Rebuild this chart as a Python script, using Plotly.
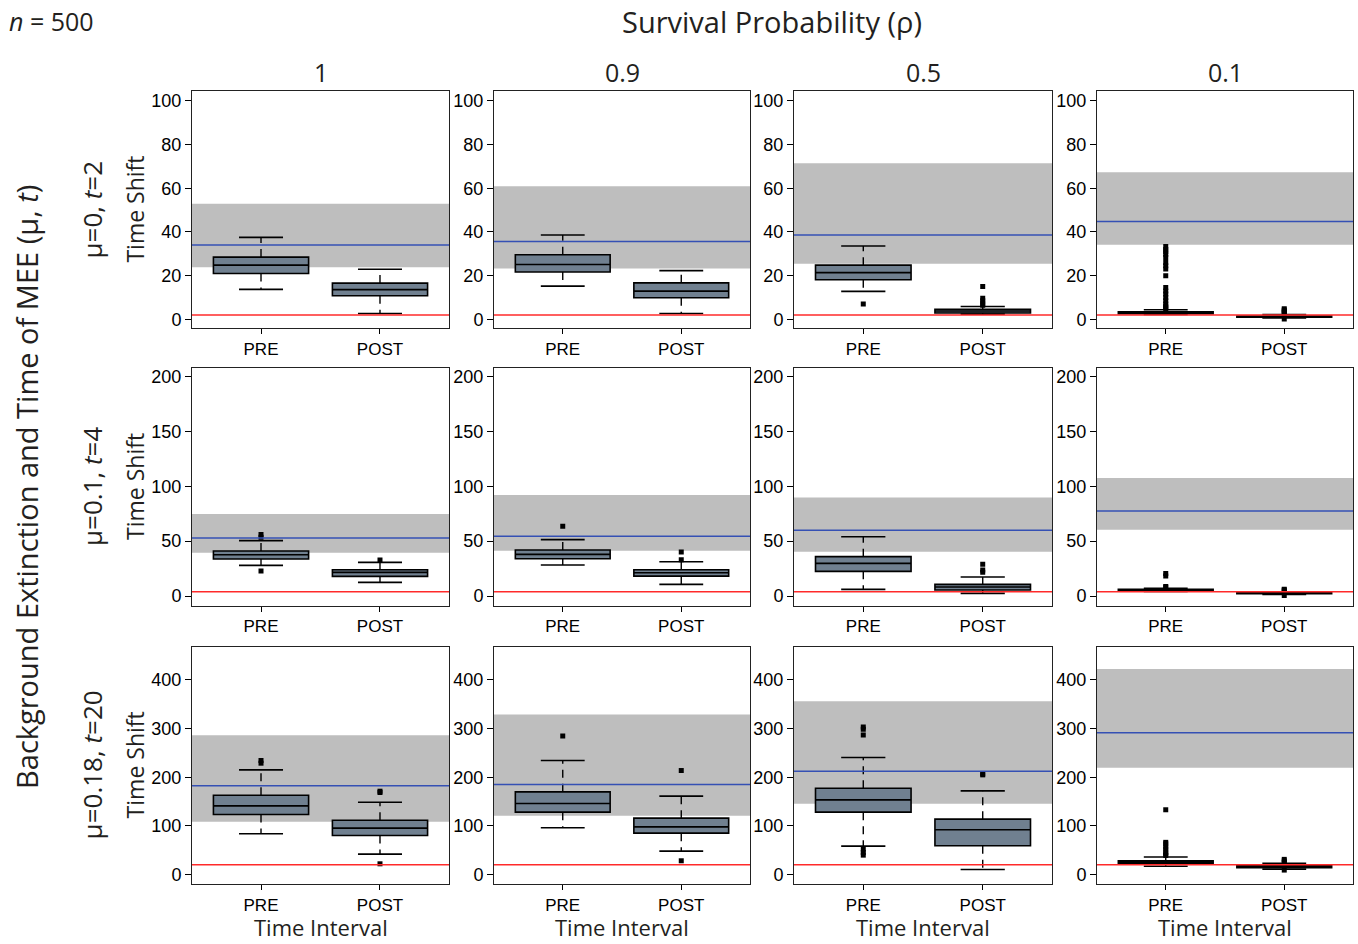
import plotly.graph_objects as go

# ---------------- data ----------------
col_titles = ["1", "0.9", "0.5", "0.1"]
row_titles = ["μ=0, <i>t</i>=2", "μ=0.1, <i>t</i>=4", "μ=0.18, <i>t</i>=20"]
group_labels = ["PRE", "POST"]

row_yranges = [[-4.1, 104.6], [-8.8, 207.6], [-19.9, 468.5]]
row_ticks = [[0, 20, 40, 60, 80, 100], [0, 50, 100, 150, 200], [0, 100, 200, 300, 400]]

# per panel (row-major: row1 c1..c4, row2 c1..c4, row3 c1..c4)
band_low = [23.8, 23.3, 25.5, 34.2,
            39.5, 41.3, 40.4, 60.5,
            108.2, 120.5, 145.2, 219.5]
band_high = [52.9, 60.9, 71.4, 67.3,
             74.8, 92.1, 89.7, 107.6,
             286.3, 328.8, 356.2, 422.6]
blue_line = [34.0, 35.6, 38.6, 44.8,
             52.9, 54.4, 59.9, 77.5,
             182.2, 184.9, 212.3, 291.3]
red_line = [2, 2, 2, 2,
            4, 4, 4, 4,
            20, 20, 20, 20]

# box stats: [lower whisker, q1, median, q3, upper whisker]
pre_stats = [[13.7, 21.0, 24.8, 28.5, 37.5],
             [15.2, 21.7, 25.1, 29.6, 38.6],
             [12.8, 18.1, 21.4, 24.8, 33.6],
             [2.2, 2.6, 3.0, 3.4, 4.4],
             [28.0, 33.7, 37.7, 41.0, 50.5],
             [28.3, 34.0, 38.0, 41.9, 51.4],
             [6.1, 22.5, 29.8, 35.9, 54.1],
             [4.2, 4.9, 5.5, 6.1, 7.0],
             [83.6, 123.3, 141.1, 163.0, 215.1],
             [95.9, 128.1, 145.9, 169.9, 234.2],
             [58.2, 128.1, 153.4, 177.4, 240.4],
             [17.0, 22.0, 25.0, 28.0, 36.0]]
post_stats = [[2.7, 10.8, 13.6, 16.6, 22.9],
              [2.7, 9.9, 12.9, 16.7, 22.3],
              [2.4, 2.9, 3.8, 4.6, 5.9],
              [0.6, 1.0, 1.3, 1.5, 2.2],
              [12.5, 17.9, 21.6, 24.0, 30.7],
              [10.6, 18.2, 21.3, 24.0, 31.3],
              [2.4, 5.5, 8.2, 10.6, 17.3],
              [1.5, 2.1, 2.5, 3.0, 3.9],
              [41.8, 80.1, 95.2, 111.6, 148.6],
              [47.9, 84.9, 97.9, 115.8, 161.0],
              [10.3, 58.9, 91.8, 113.7, 171.9],
              [11.0, 14.0, 16.0, 18.0, 23.0]]
pre_outliers = [[], [], [7.0],
                [4.7, 5.3, 6.0, 7.0, 8.5, 10.0, 11.6, 13.0, 14.6, 19.9, 23.0,
                 24.5, 26.0, 28.3, 29.8, 31.0, 32.0, 33.3],
                [22.8, 53.5, 56.2], [63.5], [], [8.0, 8.8, 18.2, 20.5],
                [228.8, 234.2], [284.9], [39.7, 45.2, 52.1, 287.0, 298.6, 303.4],
                [39.0, 42.0, 45.0, 52.0, 56.0, 63.0, 66.0, 133.0]]
post_outliers = [[], [], [6.4, 7.3, 8.5, 9.6, 15.0],
                 [0.2, 2.6, 3.2, 3.8, 4.3, 4.8],
                 [32.8], [33.0, 40.1], [21.6, 23.7, 28.9], [0.5, 4.6, 5.5, 6.3],
                 [21.9, 168.5, 171.2], [28.1, 213.7], [204.8, 206.8],
                 [9.0, 25.0, 28.0, 31.0]]

# ---------------- layout geometry ----------------
W, H = 1358, 944
col_px = [(192, 449), (494, 750), (794, 1052), (1097, 1353)]
row_px = [(90, 328), (368, 606), (647, 885)]
BOX_W = 0.8
CAP_HALF = 0.185
XPOS = [1, 2]

TICK_FONT = dict(family="Liberation Sans, Arial, sans-serif", size=17, color="black")
LABEL_FONT = "Open Sans, Noto Sans, sans-serif"

fig = go.Figure()
layout_axes = {}
shapes = []
annotations = []

for r in range(3):
    for c in range(4):
        i = r * 4 + c
        k = i + 1
        xa = "x" if k == 1 else f"x{k}"
        ya = "y" if k == 1 else f"y{k}"
        xkey = "xaxis" if k == 1 else f"xaxis{k}"
        ykey = "yaxis" if k == 1 else f"yaxis{k}"
        x0, x1 = col_px[c]
        y0, y1 = row_px[r]
        layout_axes[xkey] = dict(
            domain=[x0 / W, x1 / W], anchor=ya, range=[0.42, 2.58],
            tickmode="array", tickvals=XPOS, ticktext=group_labels,
            ticks="outside", ticklen=5, tickcolor="black", tickwidth=1,
            showline=True, mirror=True, linecolor="#222", linewidth=1,
            showgrid=False, zeroline=False, tickfont=TICK_FONT, fixedrange=True)
        layout_axes[ykey] = dict(
            domain=[1 - y1 / H, 1 - y0 / H], anchor=xa, range=row_yranges[r],
            tickmode="array", tickvals=row_ticks[r],
            ticks="outside", ticklen=6, tickcolor="black", tickwidth=1,
            showline=True, mirror=True, linecolor="#222", linewidth=1,
            showgrid=False, zeroline=False,
            tickfont=dict(family=TICK_FONT["family"], size=18, color="black"),
            fixedrange=True)

        # grey band
        shapes.append(dict(type="rect", xref=f"{xa} domain", yref=ya,
                           x0=0, x1=1, y0=band_low[i], y1=band_high[i],
                           fillcolor="#BEBEBE", line=dict(width=0), layer="below"))
        # reference lines
        shapes.append(dict(type="line", xref=f"{xa} domain", yref=ya,
                           x0=0, x1=1, y0=blue_line[i], y1=blue_line[i],
                           line=dict(color="#3550B4", width=1.5), layer="above"))
        shapes.append(dict(type="line", xref=f"{xa} domain", yref=ya,
                           x0=0, x1=1, y0=red_line[i], y1=red_line[i],
                           line=dict(color="#FF2A2A", width=1.5), layer="above"))

        stats = [pre_stats[i], post_stats[i]]
        outs = [pre_outliers[i], post_outliers[i]]
        wx, wy, cx, cy = [], [], [], []
        for g in range(2):
            lo, q1, med, q3, hi = stats[g]
            xp = XPOS[g]
            fig.add_trace(go.Box(
                x=[xp], q1=[q1], median=[med], q3=[q3],
                lowerfence=[q1], upperfence=[q3], width=BOX_W,
                fillcolor="#708090", line=dict(color="black", width=1.6),
                whiskerwidth=0, boxpoints=False, showlegend=False,
                xaxis=xa, yaxis=ya, hoverinfo="skip"))
            wx += [xp, xp, None, xp, xp, None]
            wy += [q3, hi, None, q1, lo, None]
            cx += [xp - CAP_HALF, xp + CAP_HALF, None, xp - CAP_HALF, xp + CAP_HALF, None]
            cy += [hi, hi, None, lo, lo, None]
        fig.add_trace(go.Scatter(x=wx, y=wy, mode="lines", xaxis=xa, yaxis=ya,
                                 line=dict(color="black", width=1.4, dash="8px,6px"),
                                 showlegend=False, hoverinfo="skip"))
        fig.add_trace(go.Scatter(x=cx, y=cy, mode="lines", xaxis=xa, yaxis=ya,
                                 line=dict(color="black", width=1.6),
                                 showlegend=False, hoverinfo="skip"))
        ox, oy = [], []
        for g in range(2):
            ox += [XPOS[g]] * len(outs[g])
            oy += outs[g]
        if ox:
            fig.add_trace(go.Scatter(x=ox, y=oy, mode="markers", xaxis=xa, yaxis=ya,
                                     marker=dict(color="black", size=5, symbol="square"),
                                     showlegend=False, hoverinfo="skip"))

# ---------------- text ----------------
def ann(text, x, y, size, angle=0, xanchor="center", yanchor="middle"):
    annotations.append(dict(text=text, x=x / W, y=1 - y / H, xref="paper", yref="paper",
                            showarrow=False, textangle=angle, xanchor=xanchor,
                            yanchor=yanchor, borderpad=0,
                            font=dict(family=LABEL_FONT, size=size, color="#231F20")))

ann("<i>n</i> = 500", 8, 20, 25, xanchor="left")
ann("Survival Probability (ρ)", 772, 21, 29)
for c in range(4):
    cxm = (col_px[c][0] + col_px[c][1]) / 2
    ann(col_titles[c], cxm, 71, 25)
    ann("Time Interval", cxm, 944, 22, yanchor="bottom")
for r in range(3):
    cym = (row_px[r][0] + row_px[r][1]) / 2
    ann(row_titles[r], 92, cym, 26, angle=-90)
    ann("Time Shift", 135, cym, 23, angle=-90)
ann("Background Extinction and Time of MEE (μ, <i>t</i>)", 27, 487, 29, angle=-90)

fig.update_layout(width=W, height=H, margin=dict(l=0, r=0, t=0, b=0),
                  paper_bgcolor="white", plot_bgcolor="white",
                  shapes=shapes, annotations=annotations, showlegend=False,
                  **layout_axes)

fig.write_html("out.html", config={"displayModeBar": False},
               post_script="document.body.style.margin='0';document.body.style.overflow='hidden';")
